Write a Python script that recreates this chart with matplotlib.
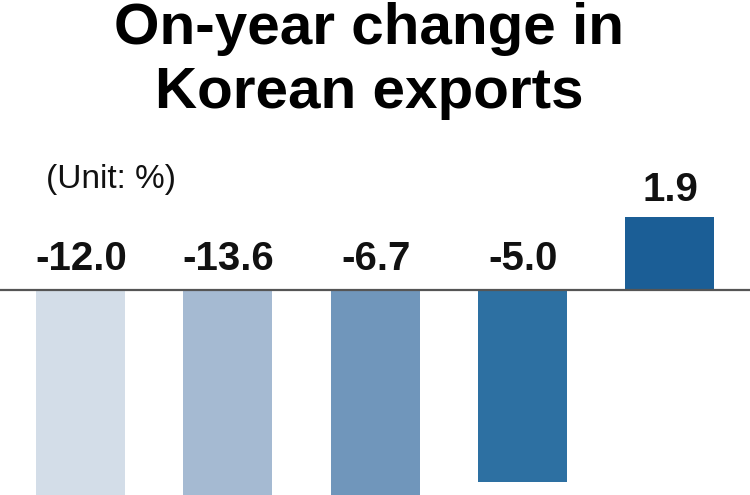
import matplotlib
matplotlib.use("Agg")
import matplotlib.pyplot as plt

categories = ["P1", "P2", "P3", "P4", "P5"]
values = [-12.0, -13.6, -6.7, -5.0, 1.9]
labels = ["-12.0", "-13.6", "-6.7", "-5.0", "1.9"]
colors = ["#d3dde8", "#a5bad2", "#7096bb", "#2d70a2", "#1b5e96"]

plt.rcParams['font.family'] = ['Liberation Sans', 'DejaVu Sans']

W, H = 750, 495
fig = plt.figure(figsize=(W / 100, H / 100), dpi=100)
ax = fig.add_axes([0, 0, 1, 1])

spacing = 147.3
ppu = 38.4
x0 = 80.5
base_px = 290
xs = list(range(len(categories)))
ax.bar(xs, values, width=89 / spacing, color=colors, zorder=2)
ax.set_xlim(-x0 / spacing, (W - x0) / spacing)
ax.set_ylim(-(H - base_px) / ppu, base_px / ppu)
ax.axhline(0, color="#555555", lw=1.6, zorder=3)
ax.axis("off")

for x, v, lab in zip(xs, values, labels):
    y = v + 16 / ppu if v > 0 else 20 / ppu
    ax.text(x + 0.005, y, lab, ha="center", va="baseline", fontsize=29,
            fontweight="bold", color="#111111")

fig.text(369 / W, 1 - 44 / H, "On-year change in", ha="center", va="baseline",
         fontsize=42, fontweight="bold", color="#000000")
fig.text(369 / W, 1 - 108 / H, "Korean exports", ha="center", va="baseline",
         fontsize=42, fontweight="bold", color="#000000")
fig.text(46 / W, 1 - 188 / H, "(Unit: %)", ha="left", va="baseline",
         fontsize=24, color="#111111")

fig.savefig("out.png", dpi=100)
